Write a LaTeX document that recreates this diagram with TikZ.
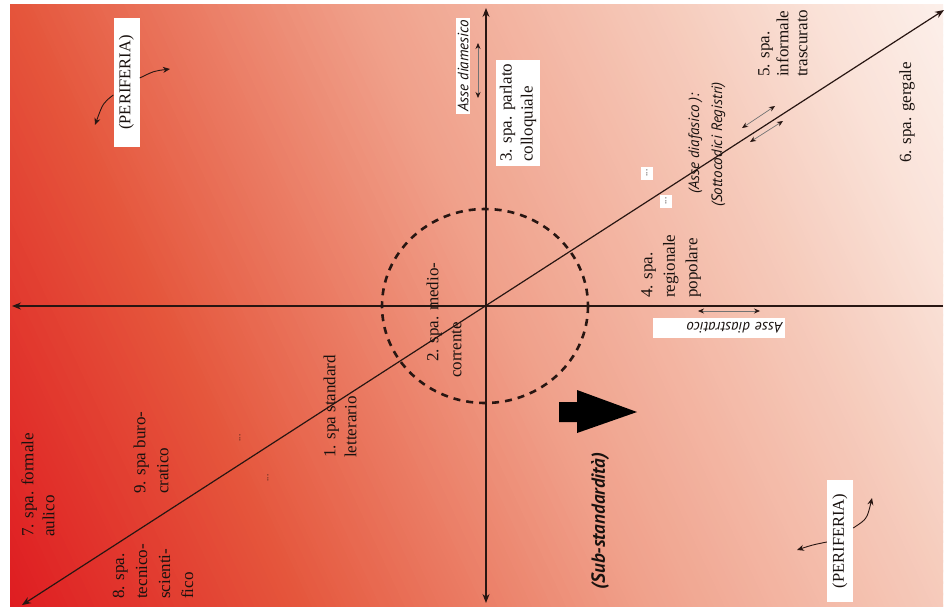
\documentclass[tikz,border=0pt]{standalone}
\usepackage{fontspec}
\setmainfont{Liberation Serif}
\setsansfont{PT Sans}
\usetikzlibrary{arrows.meta,calc}
\definecolor{g0}{RGB}{222,22,30}
\definecolor{g1}{RGB}{229,86,60}
\definecolor{g2}{RGB}{240,160,138}
\definecolor{g3}{RGB}{246,205,190}
\definecolor{g4}{RGB}{250,226,216}
\definecolor{g5}{RGB}{253,243,239}
\definecolor{axcol}{RGB}{40,22,18}
\definecolor{txtcol}{RGB}{25,18,15}
\newcommand{\gradseg}[5]{%
  \foreach \k in {1,...,#5}{%
    \pgfmathsetmacro{\gstep}{(#2-#1)/#5}%
    \pgfmathsetmacro{\pa}{#1+\gstep*(\k-1)}%
    \pgfmathsetmacro{\pb}{#1+\gstep*\k+0.8}%
    \pgfmathtruncatemacro{\gp}{100*(\k-0.5)/#5}%
    \fill[#4!\gp!#3] (\pa,450) rectangle (\pb,-650);
  }}
\tikzset{
  lbl/.style={rotate=90, anchor=west, align=left, inner sep=1pt, text=txtcol,
    font=\fontsize{17}{21}\selectfont},
  isans/.style={text=txtcol, font=\sffamily\itshape\fontsize{15}{23}\selectfont},
  wbox/.style={fill=white, inner sep=2pt},
  ax/.style={line width=1.2pt, draw=axcol},
  axtip/.style={{Stealth[length=9pt,width=7pt]}-{Stealth[length=9pt,width=7pt]}},
  axleft/.style={-{Stealth[length=9pt,width=7pt]}},
  parr/.style={line width=0.9pt, draw=axcol, -{Stealth[length=7pt,width=6pt]}},
  sarr/.style={line width=0.7pt, draw=black!55,
    {Stealth[length=6pt,width=5pt,color=axcol]}-{Stealth[length=6pt,width=5pt,color=axcol]}},
  dots/.style={rotate=90, inner sep=1pt, text=txtcol, font=\fontsize{9}{9}\selectfont},
  peri/.style={fill=white, rotate=90, inner sep=0pt, minimum width=122pt,
    minimum height=26pt, text=txtcol, font=\fontsize{16.5}{18}\selectfont},
}
\begin{document}
\begin{tikzpicture}[x=1pt,y=-1pt]
\useasboundingbox (0,0) rectangle (952,611);
\fill[white] (0,0) rectangle (952,611);
% background gradient
\begin{scope}
  \clip (10,4) rectangle (943,606);
  \begin{scope}[shift={(10,606)}, rotate=25]
    \gradseg{-30}{260}{g0}{g1}{60}
    \gradseg{260}{570}{g1}{g2}{70}
    \gradseg{570}{860}{g2}{g3}{60}
    \gradseg{860}{985}{g3}{g4}{30}
    \gradseg{985}{1130}{g4}{g5}{30}
  \end{scope}
\end{scope}

% axes
\coordinate (hL) at (12,306);
\coordinate (hR) at (943,306);
\coordinate (vT) at (486,8);
\coordinate (vB) at (486,603);
\coordinate (dL) at (22,605);
\coordinate (dR) at (944,10);
\draw[ax, axleft] (hR) -- (hL);
\draw[ax, axtip] (vT) -- (vB);
\draw[ax, axtip] (dL) -- (dR);

% dashed circle
\draw[draw=axcol, line width=2.6pt, dash pattern=on 7pt off 6pt]
  (485,306) ellipse [x radius=103, y radius=97];

% block arrow
\fill[black] (559,402) -- (577,402) -- (577,390) -- (637,412) -- (577,433)
  -- (577,422) -- (559,422) -- cycle;

% labels
\node[lbl] (l7) at (38,538) {7. spa. formale\\aulico};
\node[lbl, font=\fontsize{17}{23}\selectfont] (l8) at (153,600) {8. spa.\\tecnico-\\scienti-\\fico};
\node[lbl, font=\fontsize{17}{23}\selectfont] (l9) at (151,495) {9. spa buro-\\cratico};
\node[lbl] (l1) at (340,459) {1. spa standard\\letterario};
\node[lbl, font=\fontsize{17}{23}\selectfont] (l2) at (444,379) {\hspace*{16pt}2. spa. medio-\\corrente};
\node[lbl, fill=white, inner sep=4pt] (l3) at (518,166) {3. spa. parlato\\colloquiale};
\node[lbl, font=\fontsize{17}{22.5}\selectfont] (l4) at (671,299) {4. spa.\\regionale\\popolare};
\node[lbl, font=\fontsize{17}{19}\selectfont] (l5) at (783,78) {5. spa.\\informale\\trascurato};
\node[lbl] (l6) at (907,164) {6. spa. gergale};

\node[isans, rotate=90, anchor=west, align=left, inner sep=1pt] (dfa) at (707,208)
  {\hspace*{13pt}(Asse diafasico ):\\(Sottocodici Registri)};
\node[isans, wbox, rotate=90] (dme) at (463,66) {Asse diamesico};
\node[isans, wbox, rotate=180, text width=128pt, align=left, minimum height=20pt] (dst) at (718.5,328) {Asse diastratico};
\node[rotate=90, text=txtcol, font=\sffamily\bfseries\itshape\fontsize{19}{22}\selectfont] (sub) at (600,521) {(Sub-standardità)};

% periferia
\node[peri, minimum width=129pt] (pA) at (126.5,82.5) {(PERIFERIA)};
\node[peri] (pB) at (840,541) {(PERIFERIA)};
\coordinate (a1e) at (95,125);
\coordinate (a2e) at (170,69);
\coordinate (b1e) at (872,498);
\coordinate (b2e) at (797,550);
\draw[parr] (pA.north |- 0,95) .. controls (103,103) .. (a1e);
\draw[parr] (pA.south |- 0,78) .. controls (154,71) .. (a2e);
\draw[parr] (pB.south |- 0,528) .. controls (867,519) .. (b1e);
\draw[parr] (pB.north |- 0,542) .. controls (812,545) .. (b2e);

% small double arrows
\coordinate (s1a) at (478,43);
\coordinate (s1b) at (478,98);
\coordinate (s2a) at (698,311);
\coordinate (s2b) at (760,311);
\coordinate (s3a) at (742,128);
\coordinate (s3b) at (775,106);
\coordinate (s4a) at (750,142);
\coordinate (s4b) at (783,121);
\draw[sarr] (s1a) -- (s1b);
\draw[sarr] (s2a) -- (s2b);
\draw[sarr] (s3a) -- (s3b);
\draw[sarr] (s4a) -- (s4b);

% dots
\node[dots, fill=white, minimum width=13pt, minimum height=12pt] (d1) at (647,173) {...};
\node[dots, fill=white, minimum width=13pt, minimum height=12pt] (d2) at (666,201) {...};
\node[dots] (e1) at (240,438) {...};
\node[dots] (e2) at (268,478) {...};
\end{tikzpicture}
\end{document}
